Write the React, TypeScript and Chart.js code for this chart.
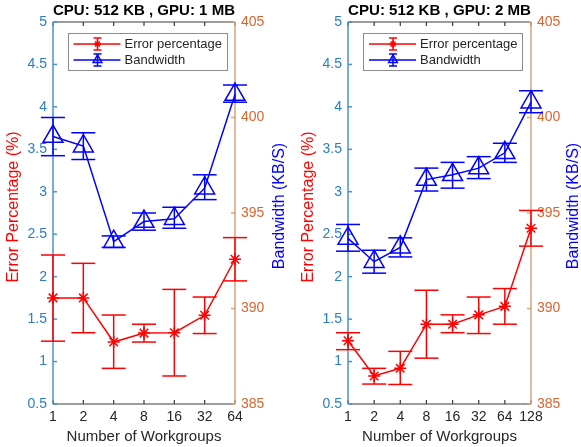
import React, { useEffect, useRef } from 'react';
import { Chart, registerables } from 'chart.js';

Chart.register(...registerables);

const FONT = '"Liberation Sans", Arial, Helvetica, sans-serif';

// ---- texts ----
const TITLE_A = 'CPU: 512 KB , GPU: 1 MB';
const TITLE_B = 'CPU: 512 KB , GPU: 2 MB';
const X_TITLE = 'Number of Workgroups';
const Y_LEFT_TITLE = 'Error Percentage (%)';
const Y_RIGHT_TITLE = 'Bandwidth (KB/S)';
const SERIES_ERROR = 'Error percentage';
const SERIES_BW = 'Bandwidth';

// ---- chart A (GPU 1 MB) ----
const workgroupsA = ['1', '2', '4', '8', '16', '32', '64'];
const errorA = [1.75, 1.75, 1.23, 1.335, 1.34, 1.545, 2.205];
const errorALow = [1.24, 1.34, 0.92, 1.23, 0.83, 1.33, 1.95];
const errorAHigh = [2.255, 2.157, 1.548, 1.44, 1.85, 1.76, 2.46];
const bandwidthA = [399.0, 398.5, 393.5, 394.55, 394.7, 396.3, 401.2];
const bandwidthALow = [398.0, 397.8, 393.2, 394.1, 394.2, 395.7, 400.8];
const bandwidthAHigh = [400.0, 399.2, 393.8, 395.0, 395.3, 397.0, 401.7];

// ---- chart B (GPU 2 MB) ----
const workgroupsB = ['1', '2', '4', '8', '16', '32', '64', '128'];
const errorB = [1.245, 0.83, 0.92, 1.44, 1.44, 1.55, 1.65, 2.57];
const errorBLow = [1.14, 0.735, 0.73, 1.04, 1.34, 1.33, 1.44, 2.36];
const errorBHigh = [1.34, 0.92, 1.12, 1.84, 1.55, 1.76, 1.86, 2.78];
const bandwidthB = [393.67, 392.45, 393.2, 396.75, 397.0, 397.35, 398.15, 400.8];
const bandwidthBLow = [393.0, 391.85, 392.7, 396.15, 396.3, 396.8, 397.65, 400.25];
const bandwidthBHigh = [394.4, 393.05, 393.7, 397.35, 397.65, 397.95, 398.65, 401.4];

// ---- axis ranges ----
const errorAxis = { min: 0.5, max: 5, step: 0.5 };
const bandwidthAxis = { min: 385, max: 405, step: 5 };

const RED = '#ff0000';
const BLUE = '#0000ff';
const LEFT_AXIS_LINE = '#4a93c8';
const LEFT_AXIS_TEXT = '#2a80c2';
const RIGHT_AXIS_LINE = '#d8a47c';
const RIGHT_AXIS_TEXT = '#d9652f';
const DARK = '#262626';

function seg(ctx: CanvasRenderingContext2D, x1: number, y1: number, x2: number, y2: number) {
  ctx.beginPath();
  ctx.moveTo(x1, y1);
  ctx.lineTo(x2, y2);
  ctx.stroke();
}

const matlabPlugin = {
  id: 'matlab',
  beforeDatasetsDraw(chart: any) {
    const { ctx, chartArea: a, scales } = chart;
    ctx.save();
    ctx.lineCap = 'butt';
    ctx.strokeStyle = '#3a3a3a';
    ctx.lineWidth = 1.2;
    seg(ctx, a.left, a.top, a.right, a.top);
    seg(ctx, a.left, a.bottom, a.right, a.bottom);
    scales.x.ticks.forEach((_t: any, i: number) => {
      const px = scales.x.getPixelForTick(i);
      seg(ctx, px, a.bottom, px, a.bottom - 4);
      seg(ctx, px, a.top, px, a.top + 4);
    });
    ctx.strokeStyle = LEFT_AXIS_LINE;
    ctx.lineWidth = 1.5;
    seg(ctx, a.left, a.top, a.left, a.bottom);
    scales.y.ticks.forEach((t: any) => {
      const py = scales.y.getPixelForValue(t.value);
      seg(ctx, a.left, py, a.left + 4, py);
    });
    ctx.strokeStyle = RIGHT_AXIS_LINE;
    seg(ctx, a.right, a.top, a.right, a.bottom);
    scales.y1.ticks.forEach((t: any) => {
      const py = scales.y1.getPixelForValue(t.value);
      seg(ctx, a.right, py, a.right - 4, py);
    });
    ctx.restore();
  },
  afterDatasetsDraw(chart: any) {
    const { ctx } = chart;
    ctx.save();
    chart.data.datasets.forEach((ds: any, di: number) => {
      const meta = chart.getDatasetMeta(di);
      const ys = chart.scales[ds.yAxisID];
      ctx.strokeStyle = ds.borderColor;
      ctx.lineWidth = 1.5;
      meta.data.forEach((pt: any, i: number) => {
        const x = pt.x;
        const yl = ys.getPixelForValue(ds.errLow[i]);
        const yh = ys.getPixelForValue(ds.errHigh[i]);
        seg(ctx, x, yl, x, yh);
        seg(ctx, x - 12, yl, x + 12, yl);
        seg(ctx, x - 12, yh, x + 12, yh);
      });
    });
    ctx.restore();
  },
  afterDraw(chart: any, _args: any, opts: any) {
    const { ctx, chartArea: a } = chart;
    ctx.save();
    const bx = a.left + opts.legendDx;
    const by = a.top + 11;
    const bw = 159;
    const bh = 37;
    ctx.fillStyle = '#ffffff';
    ctx.fillRect(bx, by, bw, bh);
    ctx.strokeStyle = '#8c8c8c';
    ctx.lineWidth = 1;
    ctx.strokeRect(Math.round(bx) + 0.5, Math.round(by) + 0.5, bw, bh);
    chart.data.datasets.forEach((ds: any, i: number) => {
      const cy = by + 11 + i * 16;
      ctx.strokeStyle = ds.borderColor;
      ctx.lineWidth = 1.5;
      seg(ctx, bx + 6, cy, bx + 53, cy);
      const mx = bx + 30;
      seg(ctx, mx, cy - 6, mx, cy + 6);
      seg(ctx, mx - 4, cy - 6, mx + 4, cy - 6);
      seg(ctx, mx - 4, cy + 6, mx + 4, cy + 6);
      if (ds.pointStyle === 'triangle') {
        const r = 5;
        ctx.beginPath();
        ctx.moveTo(mx, cy - r);
        ctx.lineTo(mx + r * 0.866, cy + r * 0.5);
        ctx.lineTo(mx - r * 0.866, cy + r * 0.5);
        ctx.closePath();
        ctx.stroke();
      } else {
        const r = 3.5;
        for (let k = 0; k < 4; k++) {
          const ang = (k * Math.PI) / 4;
          seg(ctx, mx - Math.cos(ang) * r, cy - Math.sin(ang) * r, mx + Math.cos(ang) * r, cy + Math.sin(ang) * r);
        }
      }
      ctx.fillStyle = DARK;
      ctx.font = `13px ${FONT}`;
      ctx.textAlign = 'left';
      ctx.textBaseline = 'middle';
      ctx.fillText(ds.label, bx + 57, cy + 0.5);
    });
    const drawV = (text: string, x: number, y: number, color: string) => {
      ctx.save();
      ctx.translate(x, y);
      ctx.rotate(-Math.PI / 2);
      ctx.textAlign = 'center';
      ctx.textBaseline = 'middle';
      ctx.fillStyle = color;
      ctx.font = `16px ${FONT}`;
      ctx.fillText(text, 0, 0);
      ctx.restore();
    };
    drawV(Y_LEFT_TITLE, opts.leftTitleX, 207, RED);
    drawV(Y_RIGHT_TITLE, opts.rightTitleX, 206, BLUE);
    ctx.restore();
  },
};

type PanelProps = {
  title: string;
  labels: string[];
  err: number[];
  errLow: number[];
  errHigh: number[];
  bw: number[];
  bwLow: number[];
  bwHigh: number[];
  width: number;
  leftW: number;
  rightW: number;
  legendDx: number;
  leftTitleX: number;
  rightTitleX: number;
};

const plainNumber = (v: any) => String(Number(v));

function Panel(p: PanelProps) {
  const ref = useRef<HTMLCanvasElement | null>(null);
  useEffect(() => {
    if (!ref.current) return;
    const chart = new Chart(ref.current, {
      type: 'line',
      data: {
        labels: p.labels,
        datasets: [
          {
            label: SERIES_ERROR,
            data: p.err,
            errLow: p.errLow,
            errHigh: p.errHigh,
            yAxisID: 'y',
            borderColor: RED,
            backgroundColor: RED,
            borderWidth: 1.5,
            pointStyle: 'star',
            pointRadius: 6,
            pointBorderWidth: 1.5,
            pointBorderColor: RED,
            clip: false,
            tension: 0,
          } as any,
          {
            label: SERIES_BW,
            data: p.bw,
            errLow: p.bwLow,
            errHigh: p.bwHigh,
            yAxisID: 'y1',
            borderColor: BLUE,
            backgroundColor: 'rgba(0,0,0,0)',
            borderWidth: 1.5,
            pointStyle: 'triangle',
            pointRadius: 11.5,
            pointBorderWidth: 1.5,
            pointBorderColor: BLUE,
            pointBackgroundColor: 'rgba(0,0,0,0)',
            clip: false,
            tension: 0,
          } as any,
        ],
      },
      options: {
        animation: false,
        responsive: false,
        devicePixelRatio: 1,
        events: [],
        layout: { padding: 0 },
        plugins: {
          legend: { display: false },
          tooltip: { enabled: false },
          title: {
            display: true,
            text: p.title,
            color: '#000000',
            fullSize: false,
            font: { family: FONT, size: 15.5, weight: 'bold', lineHeight: 1.16 },
            padding: { top: 2, bottom: 2 },
          },
          matlab: {
            legendDx: p.legendDx,
            leftTitleX: p.leftTitleX,
            rightTitleX: p.rightTitleX,
          },
        } as any,
        scales: {
          x: {
            type: 'category',
            offset: false,
            grid: { display: false, drawTicks: false },
            border: { display: false },
            ticks: {
              color: DARK,
              font: { family: FONT, size: 14 },
              padding: 5,
              maxRotation: 0,
              autoSkip: false,
            },
            title: {
              display: true,
              text: X_TITLE,
              color: DARK,
              font: { family: FONT, size: 15 },
              padding: { top: 0, bottom: 1.5 },
            },
            afterFit: (s: any) => {
              s.height = 43;
            },
          },
          y: {
            type: 'linear',
            position: 'left',
            min: errorAxis.min,
            max: errorAxis.max,
            grid: { display: false, drawTicks: false },
            border: { display: false },
            ticks: {
              stepSize: errorAxis.step,
              color: LEFT_AXIS_TEXT,
              font: { family: FONT, size: 14 },
              padding: 6,
              callback: plainNumber,
            },
            afterFit: (s: any) => {
              s.width = p.leftW;
            },
          },
          y1: {
            type: 'linear',
            position: 'right',
            min: bandwidthAxis.min,
            max: bandwidthAxis.max,
            grid: { display: false, drawTicks: false },
            border: { display: false },
            ticks: {
              stepSize: bandwidthAxis.step,
              color: RIGHT_AXIS_TEXT,
              font: { family: FONT, size: 14 },
              padding: 6,
              callback: plainNumber,
            },
            afterFit: (s: any) => {
              s.width = p.rightW;
            },
          },
        },
      } as any,
      plugins: [matlabPlugin as any],
    });
    return () => chart.destroy();
  }, []);
  return (
    <div style={{ width: p.width, height: 447, position: 'relative' }}>
      <canvas ref={ref} width={p.width} height={447} style={{ width: p.width, height: 447, display: 'block' }} />
    </div>
  );
}

export default function App() {
  return (
    <div style={{ position: 'absolute', left: 0, top: 0, width: 581, height: 447, display: 'flex', background: '#ffffff' }}>
      <Panel
        title={TITLE_A}
        labels={workgroupsA}
        err={errorA}
        errLow={errorALow}
        errHigh={errorAHigh}
        bw={bandwidthA}
        bwLow={bandwidthALow}
        bwHigh={bandwidthAHigh}
        width={290}
        leftW={53}
        rightW={55}
        legendDx={14.5}
        leftTitleX={13.5}
        rightTitleX={280}
      />
      <Panel
        title={TITLE_B}
        labels={workgroupsB}
        err={errorB}
        errLow={errorBLow}
        errHigh={errorBHigh}
        bw={bandwidthB}
        bwLow={bandwidthBLow}
        bwHigh={bandwidthBHigh}
        width={291}
        leftW={58}
        rightW={50}
        legendDx={15}
        leftTitleX={18.5}
        rightTitleX={284}
      />
    </div>
  );
}
